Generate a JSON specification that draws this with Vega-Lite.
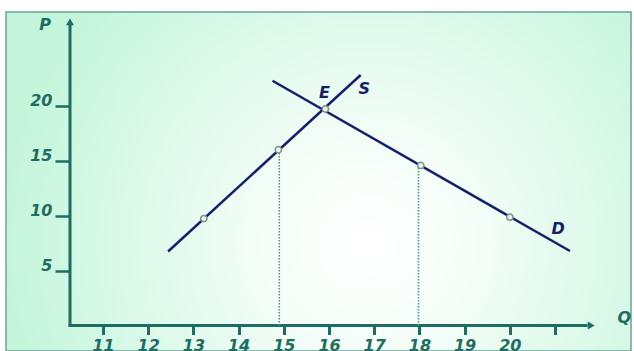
{
  "$schema": "https://vega.github.io/schema/vega-lite/v6.json",
  "width": 625,
  "height": 339,
  "autosize": {"type": "none"},
  "padding": {"left": 6, "top": 12, "right": 3, "bottom": 0},
  "background": "#ffffff",
  "view": {
    "fill": {
      "gradient": "radial",
      "x1": 0.58, "y1": 0.6, "r1": 0,
      "x2": 0.58, "y2": 0.6, "r2": 0.6,
      "stops": [
        {"offset": 0, "color": "#ffffff"},
        {"offset": 0.3, "color": "#f3fdf7"},
        {"offset": 1, "color": "#c2f5da"}
      ]
    },
    "stroke": "#6aa39a",
    "strokeWidth": 1.5
  },
  "datasets": {
    "axes": [
      {"q": 10.24, "p": 0, "q2": 21.72, "p2": 0},
      {"q": 10.27, "p": -0.14, "q2": 10.27, "p2": 27.4}
    ],
    "arrows": [
      {"axis": "x", "q": 21.8, "p": 0},
      {"axis": "y", "q": 10.27, "p": 27.6}
    ],
    "dots": [
      {"q": 14.9, "p": 0, "p2": 16.0},
      {"q": 17.98, "p": 0, "p2": 14.55}
    ],
    "curves": [
      {"curve": "S", "q": 12.44, "p": 6.73},
      {"curve": "S", "q": 16.70, "p": 22.77},
      {"curve": "D", "q": 14.75, "p": 22.25},
      {"curve": "D", "q": 21.33, "p": 6.77}
    ],
    "points": [
      {"q": 13.23, "p": 9.72},
      {"q": 14.88, "p": 15.98},
      {"q": 15.92, "p": 19.68},
      {"q": 18.03, "p": 14.55},
      {"q": 20.0, "p": 9.85}
    ],
    "labels": [
      {"t": "P", "kind": "axis", "q": 9.72, "p": 27.3},
      {"t": "Q", "kind": "axis", "q": 22.53, "p": 0.68},
      {"t": "E", "kind": "curve", "q": 15.90, "p": 21.14},
      {"t": "S", "kind": "curve", "q": 16.78, "p": 21.5},
      {"t": "D", "kind": "curve", "q": 21.07, "p": 8.77}
    ]
  },
  "encoding": {
    "x": {
      "field": "q",
      "type": "quantitative",
      "scale": {"domain": [8.854, 22.681], "nice": false, "zero": false},
      "axis": {
        "values": [11, 12, 13, 14, 15, 16, 17, 18, 19, 20, 21],
        "labelExpr": "datum.value == 21 ? '' : datum.label",
        "offset": -25.5,
        "domain": false,
        "grid": false,
        "title": null,
        "tickSize": 9,
        "tickWidth": 3,
        "tickColor": "#1d6d62",
        "labelColor": "#1d6d62",
        "labelFont": "DejaVu Sans",
        "labelFontStyle": "italic",
        "labelFontWeight": "bold",
        "labelFontSize": 16,
        "labelPadding": 3,
        "labelFlush": false,
        "labelOverlap": false,
        "labelBound": false
      }
    },
    "y": {
      "field": "p",
      "type": "quantitative",
      "scale": {"domain": [-2.318, 28.5], "nice": false, "zero": false},
      "axis": {
        "values": [5, 10, 15, 20],
        "offset": -64,
        "domain": false,
        "grid": false,
        "title": null,
        "tickSize": 15,
        "tickWidth": 2.5,
        "tickColor": "#1d6d62",
        "labelColor": "#1d6d62",
        "labelFont": "DejaVu Sans",
        "labelFontStyle": "italic",
        "labelFontWeight": "bold",
        "labelFontSize": 16,
        "labelPadding": 3,
        "labelBaseline": "alphabetic",
        "labelFlush": false,
        "labelOverlap": false,
        "labelBound": false
      }
    }
  },
  "layer": [
    {
      "data": {"name": "axes"},
      "mark": {"type": "rule", "color": "#1d6d62", "strokeWidth": 3},
      "encoding": {
        "x2": {"field": "q2"},
        "y2": {"field": "p2"}
      }
    },
    {
      "data": {"name": "arrows"},
      "mark": {"type": "point", "filled": true, "color": "#1d6d62", "size": 64, "opacity": 1},
      "encoding": {
        "shape": {
          "field": "axis",
          "type": "nominal",
          "scale": {"domain": ["x", "y"], "range": ["triangle-right", "triangle-up"]},
          "legend": null
        }
      }
    },
    {
      "data": {"name": "dots"},
      "mark": {"type": "rule", "color": "#4f8f86", "strokeWidth": 1.5, "strokeDash": [1.5, 1.5]},
      "encoding": {
        "y2": {"field": "p2"}
      }
    },
    {
      "data": {"name": "curves"},
      "mark": {"type": "line", "color": "#141e6b", "strokeWidth": 2.5},
      "encoding": {
        "detail": {"field": "curve", "type": "nominal"}
      }
    },
    {
      "data": {"name": "points"},
      "mark": {"type": "point", "shape": "circle", "filled": false, "fill": "#e6f4e8", "fillOpacity": 1, "stroke": "#7f9188", "strokeWidth": 1.5, "size": 40, "opacity": 1}
    },
    {
      "data": {"name": "labels"},
      "mark": {"type": "text", "font": "DejaVu Sans", "fontStyle": "italic", "fontWeight": "bold", "fontSize": 16, "align": "center", "baseline": "middle"},
      "encoding": {
        "text": {"field": "t"},
        "color": {
          "field": "kind",
          "type": "nominal",
          "scale": {"domain": ["axis", "curve"], "range": ["#1d6d62", "#141e6b"]},
          "legend": null
        }
      }
    }
  ]
}
